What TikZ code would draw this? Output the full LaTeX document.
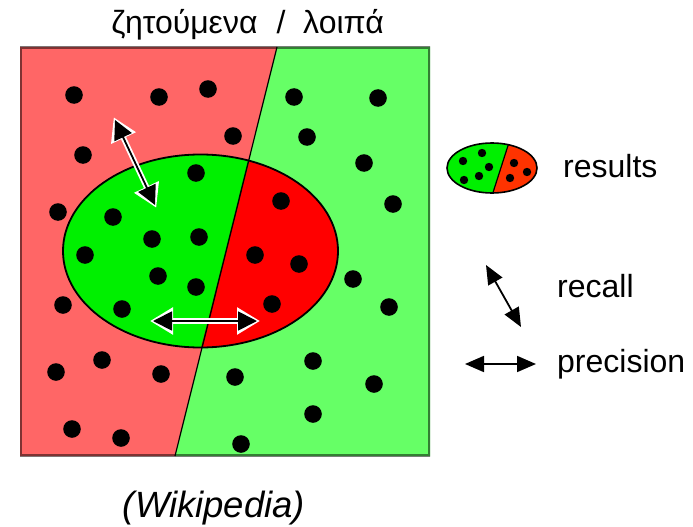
\documentclass[tikz,border=0pt]{standalone}
\usepackage{fontspec}
\setmainfont{Liberation Sans}
\usetikzlibrary{arrows.meta}
\definecolor{lred}{HTML}{FF6666}
\definecolor{lgreen}{HTML}{66FF66}
\definecolor{egreen}{HTML}{00F000}
\definecolor{ered}{HTML}{FF0000}
\definecolor{sred}{HTML}{FF3300}
\begin{document}
\begin{tikzpicture}[x=1pt,y=-1pt,
  lbl/.style={inner sep=0pt, font=\fontsize{32}{38}\selectfont},
  ttl/.style={inner sep=0pt, font=\fontsize{32}{38}\selectfont},
  arr/.style={line width=1.8pt, {Triangle[length=19pt,width=16pt]}-{Triangle[length=19pt,width=16pt]}},
  bigarr/.style={line width=1.8pt, {Triangle[length=19pt,width=19pt]}-{Triangle[length=19pt,width=19pt]}},
  halo/.style={white, line width=5.5pt, shorten <=-3pt, shorten >=-3pt, {Triangle[length=23pt,width=26pt]}-{Triangle[length=23pt,width=26pt]}},
  outline/.style={draw=black, line width=1.8pt}]
\useasboundingbox (0,0) rectangle (693,527);
% coordinates
\coordinate (TL) at (20,47);
\coordinate (TR) at (430,47);
\coordinate (BR) at (430,456);
\coordinate (BL) at (20,456);
\coordinate (DT) at (277,47);
\coordinate (DB) at (175,456);
% regions
\fill[lred] (TL) -- (DT) -- (DB) -- (BL) -- cycle;
\fill[lgreen] (DT) -- (TR) -- (BR) -- (DB) -- cycle;
\begin{scope}
  \clip (TL) rectangle (BR);
  \draw[black, opacity=0.5, line width=3.5pt] (TL) rectangle (BR);
\end{scope}
\draw[black, line width=1.2pt] (DT) -- (DB);
% big ellipse
\coordinate (EC) at (200.5,251);
\begin{scope}
  \clip (EC) ellipse [x radius=137.5, y radius=96.5];
  \fill[egreen] (40,100) -- (265,100) -- (212,310) -- (185,410) -- (40,410) -- cycle;
  \fill[ered] (265,100) -- (360,100) -- (360,410) -- (185,410) -- cycle;
  \draw[black, line width=1.4pt] (DT) -- (DB);
\end{scope}
\draw[outline] (EC) ellipse [x radius=137.5, y radius=96.5];
% dots
\foreach \p in {(74,95),(159,97),(208,89),(233,136),(83,155),(58,212),(63,305),(102,360),(56,372),(161,374),(72,429),(121,438),
  (294,97),(378,98),(307,137),(364,163),(393,204),(353,279),(389,307),(313,361),(235,377),(374,384),(313,414),(241,444),
  (196,173),(113,217),(152,239),(199,237),(85,255),(158,276),(196,287),(122,309),
  (281,201),(255,255),(299,264),(272,304)}
  \fill[black] \p circle (8.8);
% arrows in picture
\coordinate (RA) at (115,120);
\coordinate (RB) at (155,205);
\coordinate (PA) at (153,321);
\coordinate (PB) at (257,321);
\draw[halo] (RA) -- (RB);
\draw[bigarr] (RA) -- (RB);
\draw[halo] (PA) -- (PB);
\draw[bigarr] (PA) -- (PB);
% legend ellipse
\coordinate (SC) at (492,168);
\begin{scope}
  \clip (SC) ellipse [x radius=45, y radius=25];
  \fill[egreen] (440,130) -- (513,130) -- (489,205) -- (440,205) -- cycle;
  \fill[sred] (513,130) -- (545,130) -- (545,205) -- (489,205) -- cycle;
  \draw[black, line width=1.2pt] (513,130) -- (489,205);
\end{scope}
\draw[black, line width=1.6pt] (SC) ellipse [x radius=45, y radius=25];
\foreach \p in {(463,161),(482,153),(489,167),(464,180),(479,176),(514,163),(527,172),(510,178)}
  \fill[black] \p circle (4.2);
% legend arrows
\coordinate (LRA) at (486,265);
\coordinate (LRB) at (521,327);
\coordinate (LPA) at (465,364);
\coordinate (LPB) at (536,364);
\draw[arr] (LRA) -- (LRB);
\draw[arr] (LPA) -- (LPB);
% texts
\node[lbl, anchor=base west] (results) at (563,177) {results};
\node[lbl, anchor=base west] (recall) at (557,297) {recall};
\node[lbl, anchor=base west] (precision) at (557,372) {precision};
\node[ttl, anchor=base] (want) at (184.5,34) {ζητούμενα};
\node[ttl, anchor=base] (slash) at (281,34) {/};
\node[ttl, anchor=base] (rest) at (343.5,34) {λοιπά};
\node[lbl, anchor=base, font=\fontsize{36.5}{42}\selectfont\itshape] (wiki) at (214,517) {(Wikipedia)};
\end{tikzpicture}
\end{document}
